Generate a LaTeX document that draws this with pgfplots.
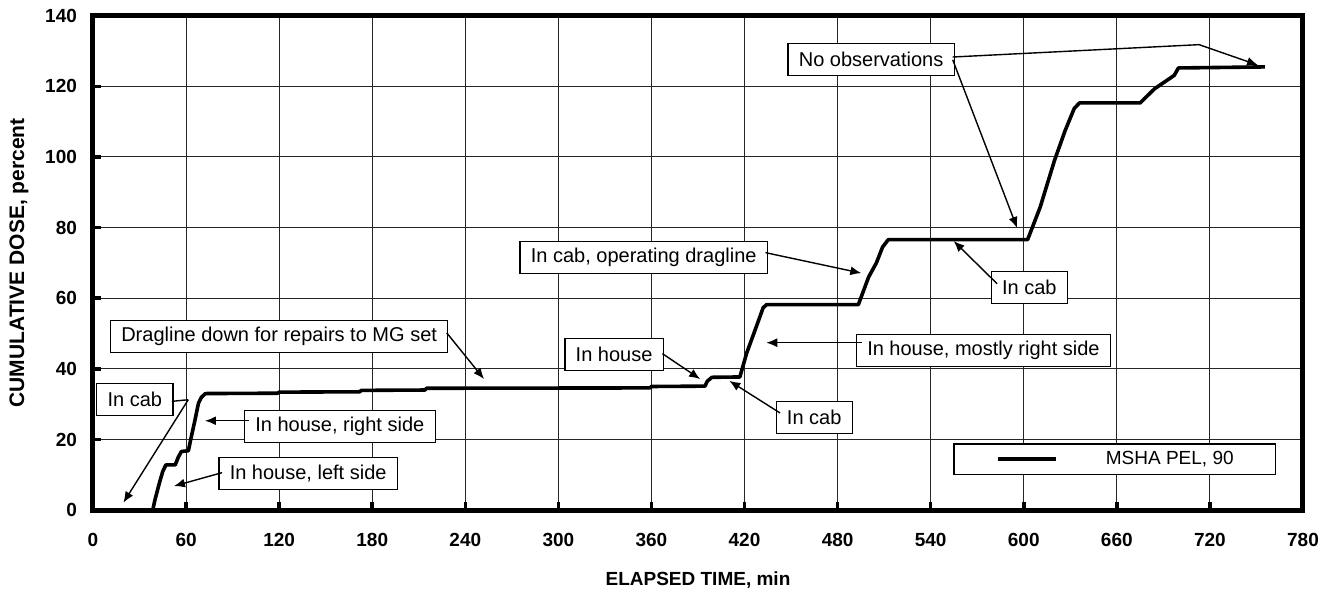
\documentclass[border=0pt]{standalone}
\usepackage{fontspec}
\setmainfont{Liberation Sans}
\usepackage{pgfplots}
\pgfplotsset{compat=1.18}
\usetikzlibrary{arrows.meta}

\pgfplotstableread{
t dose
0 0
38.5 0
40 3
43 8
45 11
47 12.8
53 12.8
55 15
57 16.6
61.5 16.8
63 20
65.8 25.6
68 30.3
70 32
72.5 33.0
119 33.1
120 33.4
172 33.5
173 33.9
214 34.0
215 34.5
359 34.6
360 35.0
394.5 35.1
396 36.5
399 37.6
417 37.7
421.4 44.5
426 50
432 57.3
434.3 58.2
493.4 58.2
500 66
505 70
509 74.5
512.7 76.6
602.5 76.6
610.6 85.8
619.8 99
626.7 107.5
632.5 113.7
635.9 115.3
675 115.3
684.3 119.3
690 121
697 123.1
699.7 125.2
755.5 125.5
}\dosedata

\begin{document}
\begin{tikzpicture}[
 box/.style={draw=black, line width=0.6pt, fill=white, font=\fontsize{10}{12}\selectfont, inner xsep=5.4pt, inner ysep=0pt, minimum height=16pt, anchor=center},
 arr/.style={line width=0.7pt, -{Latex[length=5.5pt,width=4.5pt]}},
 lead/.style={line width=0.7pt}]
\path[use as bounding box] (-46.5pt,-41.5pt) rectangle (621pt,255.05pt);
\begin{axis}[
  name=ax, scale only axis, width=605pt, height=247.2pt,
  xmin=0, xmax=780, ymin=0, ymax=140,
  xtick={0,60,...,780}, ytick={0,20,...,140},
  grid=major, major grid style={line width=0.5pt, black!85},
  axis line style={line width=2.5pt},
  xtick pos=bottom, ytick pos=left, tick align=inside, major tick length=4pt,
  tick style={line width=1.8pt, black},
  /pgf/number format/assume math mode=true,
  ticklabel style={font=\bfseries\fontsize{9.5}{11}\selectfont},
  xticklabel style={yshift=-8pt},
  yticklabel style={xshift=-4.5pt},
  xlabel={ELAPSED TIME, min}, ylabel={CUMULATIVE DOSE, percent},
  xlabel style={font=\bfseries\fontsize{9.5}{11}\selectfont, at={(axis description cs:0.5,-0.1416)}, anchor=center},
  ylabel style={font=\bfseries\fontsize{10.5}{12}\selectfont, at={(axis description cs:-0.0612,0.5)}, anchor=center},
  clip=false,
  legend style={at={(0.711,0.135)}, anchor=north west, draw=black, line width=0.6pt, fill=white,
    inner xsep=21pt, inner ysep=3.5pt, column sep=24pt, font=\fontsize{9.5}{11}\selectfont,
    nodes={inner sep=0pt}},
  legend image code/.code={\draw[line width=2pt] (0pt,0pt) -- (29pt,0pt);},
]
\addplot[black, line width=1.8pt, line join=round] table[x=t, y=dose] {\dosedata};
\addlegendentry{MSHA PEL, 90}

% In cab (1)
\node[box] at (axis cs:27,31.35) {In cab};
\draw[lead] (axis cs:50.9,30.8) -- (axis cs:61.4,31.25);
\draw[arr] (axis cs:61.4,31.25) -- (axis cs:19.6,2.1);
% In house, right side
\node[box] at (axis cs:159.1,23.6) {In house, right side};
\draw[arr] (axis cs:100.5,25.3) -- (axis cs:72.2,25.3);
% In house, left side
\node[box] at (axis cs:138.7,10.3) {In house, left side};
\draw[arr] (axis cs:83.2,10.6) -- (axis cs:52.2,6.8);
% Dragline down
\node[box] at (axis cs:120,49.1) {Dragline down for repairs to MG set};
\draw[arr] (axis cs:228,50.2) -- (axis cs:252.1,37.1);
% In house
\node[box] at (axis cs:335.9,44) {In house};
\draw[arr] (axis cs:367.1,44.3) -- (axis cs:391.4,37.1);
% In cab (2)
\node[box] at (axis cs:464.9,26.3) {In cab};
\draw[arr] (axis cs:442.9,27.5) -- (axis cs:410.2,36.6);
% In house, mostly right side
\node[box] at (axis cs:574,45.3) {In house, mostly right side};
\draw[arr] (axis cs:495.6,47.4) -- (axis cs:434,47.4);
% In cab, operating dragline
\node[box] at (axis cs:355,71.5) {In cab, operating dragline};
\draw[arr] (axis cs:433.5,72.9) -- (axis cs:495.3,67.1);
% In cab (3)
\node[box] at (axis cs:603.6,63.1) {In cab};
\draw[arr] (axis cs:582.8,64.1) -- (axis cs:554.8,76.2);
% No observations
\node[box] at (axis cs:501.6,127.5) {No observations};
\draw[lead] (axis cs:554.2,128.3) -- (axis cs:713,131.8);
\draw[arr] (axis cs:713,131.8) -- (axis cs:751,126);
\draw[arr] (axis cs:554.2,127.5) -- (axis cs:595.7,79.9);
\end{axis}
\end{tikzpicture}
\end{document}
